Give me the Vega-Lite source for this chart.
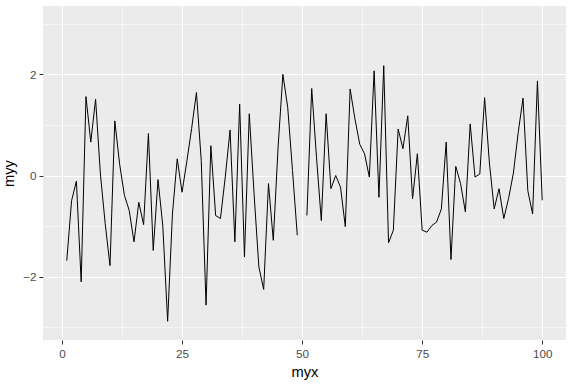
{
  "$schema": "https://vega.github.io/schema/vega-lite/v6.json",
  "width": 523,
  "height": 334,
  "autosize": {"type": "none"},
  "padding": {"left": 43, "top": 6, "right": 8, "bottom": 48},
  "background": "white",
  "config": {
    "view": {"fill": "#EBEBEB", "stroke": null},
    "font": "Liberation Sans"
  },
  "data": {
    "values": [
      {"myx": 1, "myy": -1.68}, {"myx": 2, "myy": -0.5}, {"myx": 3, "myy": -0.11}, {"myx": 4, "myy": -2.1},
      {"myx": 5, "myy": 1.56}, {"myx": 6, "myy": 0.66}, {"myx": 7, "myy": 1.51}, {"myx": 8, "myy": 0.03},
      {"myx": 9, "myy": -0.95}, {"myx": 10, "myy": -1.78}, {"myx": 11, "myy": 1.08}, {"myx": 12, "myy": 0.23},
      {"myx": 13, "myy": -0.39}, {"myx": 14, "myy": -0.69}, {"myx": 15, "myy": -1.31}, {"myx": 16, "myy": -0.53},
      {"myx": 17, "myy": -0.97}, {"myx": 18, "myy": 0.83}, {"myx": 19, "myy": -1.48}, {"myx": 20, "myy": -0.08},
      {"myx": 21, "myy": -1.0}, {"myx": 22, "myy": -2.88}, {"myx": 23, "myy": -0.76}, {"myx": 24, "myy": 0.33},
      {"myx": 25, "myy": -0.33}, {"myx": 26, "myy": 0.28}, {"myx": 27, "myy": 0.93}, {"myx": 28, "myy": 1.64},
      {"myx": 29, "myy": 0.3}, {"myx": 30, "myy": -2.56}, {"myx": 31, "myy": 0.59}, {"myx": 32, "myy": -0.79},
      {"myx": 33, "myy": -0.85}, {"myx": 34, "myy": -0.03}, {"myx": 35, "myy": 0.9}, {"myx": 36, "myy": -1.31},
      {"myx": 37, "myy": 1.41}, {"myx": 38, "myy": -1.61}, {"myx": 39, "myy": 1.22}, {"myx": 40, "myy": -0.36},
      {"myx": 41, "myy": -1.81}, {"myx": 42, "myy": -2.25}, {"myx": 43, "myy": -0.16}, {"myx": 44, "myy": -1.28},
      {"myx": 45, "myy": 0.56}, {"myx": 46, "myy": 2.0}, {"myx": 47, "myy": 1.35}, {"myx": 48, "myy": 0.1},
      {"myx": 49, "myy": -1.18}, {"myx": 50, "myy": null}, {"myx": 51, "myy": -0.79}, {"myx": 52, "myy": 1.72},
      {"myx": 53, "myy": 0.36}, {"myx": 54, "myy": -0.89}, {"myx": 55, "myy": 1.22}, {"myx": 56, "myy": -0.26},
      {"myx": 57, "myy": 0.0}, {"myx": 58, "myy": -0.23}, {"myx": 59, "myy": -1.01}, {"myx": 60, "myy": 1.71},
      {"myx": 61, "myy": 1.12}, {"myx": 62, "myy": 0.62}, {"myx": 63, "myy": 0.43}, {"myx": 64, "myy": -0.03},
      {"myx": 65, "myy": 2.07}, {"myx": 66, "myy": -0.43}, {"myx": 67, "myy": 2.17}, {"myx": 68, "myy": -1.33},
      {"myx": 69, "myy": -1.08}, {"myx": 70, "myy": 0.92}, {"myx": 71, "myy": 0.53}, {"myx": 72, "myy": 1.18},
      {"myx": 73, "myy": -0.46}, {"myx": 74, "myy": 0.43}, {"myx": 75, "myy": -1.08}, {"myx": 76, "myy": -1.12},
      {"myx": 77, "myy": -0.99}, {"myx": 78, "myy": -0.92}, {"myx": 79, "myy": -0.66}, {"myx": 80, "myy": 0.66},
      {"myx": 81, "myy": -1.66}, {"myx": 82, "myy": 0.18}, {"myx": 83, "myy": -0.16}, {"myx": 84, "myy": -0.72},
      {"myx": 85, "myy": 1.02}, {"myx": 86, "myy": -0.03}, {"myx": 87, "myy": 0.03}, {"myx": 88, "myy": 1.54},
      {"myx": 89, "myy": 0.25}, {"myx": 90, "myy": -0.66}, {"myx": 91, "myy": -0.26}, {"myx": 92, "myy": -0.85},
      {"myx": 93, "myy": -0.45}, {"myx": 94, "myy": 0.05}, {"myx": 95, "myy": 0.85}, {"myx": 96, "myy": 1.53},
      {"myx": 97, "myy": -0.3}, {"myx": 98, "myy": -0.76}, {"myx": 99, "myy": 1.87}, {"myx": 100, "myy": -0.49}
    ]
  },
  "mark": {"type": "line", "color": "black", "strokeWidth": 1, "clip": true},
  "encoding": {
    "x": {
      "field": "myx",
      "type": "quantitative",
      "scale": {"domain": [-3.95, 104.95], "nice": false, "zero": false},
      "axis": {
        "values": [0, 12.5, 25, 37.5, 50, 62.5, 75, 87.5, 100],
        "labelExpr": "datum.value % 25 === 0 ? datum.label : ''",
        "grid": true,
        "gridColor": "white",
        "gridWidth": {"condition": {"test": "datum.value % 25 === 0", "value": 1.1}, "value": 0.55},
        "tickOpacity": {"condition": {"test": "datum.value % 25 === 0", "value": 1}, "value": 0},
        "domain": false,
        "tickColor": "#333333",
        "tickSize": 4,
        "tickWidth": 1,
        "labelColor": "#4D4D4D",
        "labelFontSize": 11.7,
        "labelPadding": 4,
        "labelFlush": false,
        "title": "myx",
        "titleFontSize": 14.7,
        "titleFontWeight": "normal",
        "titleColor": "black",
        "titlePadding": 5
      }
    },
    "y": {
      "field": "myy",
      "type": "quantitative",
      "scale": {"domain": [-3.25, 3.35], "nice": false, "zero": false},
      "axis": {
        "values": [-3, -2, -1, 0, 1, 2, 3],
        "labelExpr": "datum.value % 2 === 0 ? datum.label : ''",
        "grid": true,
        "gridColor": "white",
        "gridWidth": {"condition": {"test": "datum.value % 2 === 0", "value": 1.1}, "value": 0.55},
        "tickOpacity": {"condition": {"test": "datum.value % 2 === 0", "value": 1}, "value": 0},
        "domain": false,
        "tickColor": "#333333",
        "tickSize": 4,
        "tickWidth": 1,
        "labelColor": "#4D4D4D",
        "labelFontSize": 11.7,
        "labelPadding": 3,
        "labelFlush": false,
        "title": "myy",
        "titleFontSize": 14.7,
        "titleFontWeight": "normal",
        "titleColor": "black",
        "titlePadding": 6
      }
    }
  }
}
